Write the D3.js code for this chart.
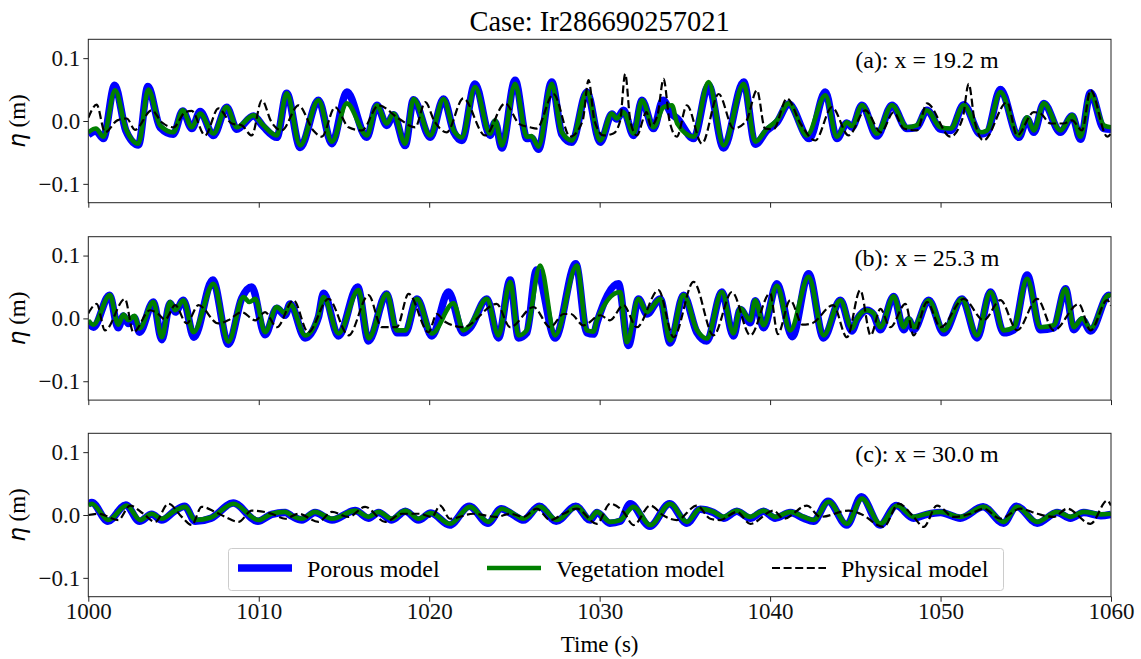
<!DOCTYPE html>
<html><head><meta charset="utf-8">
<script src="https://cdn.jsdelivr.net/npm/d3@7"></script>
<style>body{margin:0;background:#fff}svg{display:block}</style>
</head><body><svg id="c" width="1141" height="659"></svg>
<script>
const title = "Case: Ir286690257021";
const panelLabels = ["(a): x = 19.2 m", "(b): x = 25.3 m", "(c): x = 30.0 m"];
const seriesNames = ["Porous model", "Vegetation model", "Physical model"];
const xTicks = [1000, 1010, 1020, 1030, 1040, 1050, 1060];
const yTicks = [-0.1, 0.0, 0.1];

// Panel (a) x = 19.2 m
const porousA = [[1000.0,-0.022],[1000.45,-0.016],[1000.88,-0.028],[1001.55,0.057],[1002.2,-0.015],[1002.94,-0.038],[1003.5,0.055],[1004.21,-0.010],[1004.99,-0.021],[1005.54,0.016],[1006.07,-0.012],[1006.56,0.015],[1007.34,-0.023],[1008.12,0.022],[1008.71,-0.013],[1009.69,0.008],[1010.27,-0.009],[1011.06,-0.026],[1011.64,0.044],[1012.43,-0.042],[1013.5,0.033],[1014.29,-0.036],[1015.17,0.046],[1016.34,-0.026],[1016.93,0.025],[1017.51,-0.007],[1017.91,0.010],[1018.59,-0.039],[1019.08,0.034],[1020.06,-0.026],[1020.84,0.035],[1021.45,-0.018],[1021.92,-0.031],[1022.69,0.059],[1023.57,-0.023],[1023.87,-0.002],[1024.26,-0.043],[1025.04,0.065],[1025.73,-0.028],[1026.0,-0.027],[1026.41,-0.045],[1027.19,0.062],[1027.78,-0.021],[1028.37,-0.034],[1029.25,0.046],[1030.03,-0.034],[1030.72,0.011],[1031.0,0.003],[1031.4,0.017],[1031.99,-0.023],[1032.48,0.033],[1033.16,-0.012],[1033.72,0.033],[1034.2,0.012],[1034.55,0.004],[1035.51,-0.028],[1036.39,0.057],[1037.27,-0.043],[1038.45,0.062],[1039.13,-0.037],[1039.82,-0.015],[1040.4,-0.002],[1041.09,0.027],[1042.3,-0.028],[1043.24,0.046],[1043.92,-0.028],[1044.51,-0.003],[1044.8,-0.010],[1045.39,0.025],[1046.27,-0.024],[1047.15,0.025],[1048.03,-0.012],[1048.6,-0.010],[1049.2,0.017],[1049.99,-0.013],[1050.6,-0.015],[1051.36,0.026],[1052.34,-0.021],[1052.73,-0.018],[1053.51,0.050],[1054.59,-0.026],[1055.08,0.003],[1055.47,-0.018],[1056.06,0.028],[1057.03,-0.018],[1057.72,0.008],[1058.21,-0.029],[1058.8,0.045],[1059.58,-0.012],[1060.0,-0.013]];
const vegA = [[1000.0,-0.018],[1000.45,-0.012],[1000.88,-0.025],[1001.57,0.049],[1002.2,-0.012],[1002.94,-0.036],[1003.52,0.050],[1004.21,-0.007],[1004.99,-0.018],[1005.54,0.017],[1006.07,-0.010],[1006.56,0.012],[1007.34,-0.020],[1008.12,0.022],[1008.71,-0.010],[1009.69,0.009],[1010.27,-0.007],[1011.06,-0.023],[1011.64,0.044],[1012.43,-0.039],[1013.5,0.033],[1014.29,-0.033],[1015.17,0.028],[1016.34,-0.023],[1016.93,0.025],[1017.51,-0.004],[1017.91,0.012],[1018.59,-0.036],[1019.08,0.035],[1020.06,-0.023],[1020.84,0.035],[1021.45,-0.016],[1021.92,-0.026],[1022.69,0.054],[1023.57,-0.020],[1023.87,0.001],[1024.26,-0.039],[1025.04,0.059],[1025.73,-0.025],[1026.0,-0.024],[1026.41,-0.041],[1027.19,0.059],[1027.78,-0.018],[1028.37,-0.031],[1029.25,0.046],[1030.03,-0.031],[1030.72,0.012],[1031.0,0.004],[1031.4,0.014],[1031.99,-0.020],[1032.48,0.033],[1033.16,-0.010],[1033.75,0.022],[1034.24,0.025],[1034.55,-0.004],[1035.51,-0.025],[1036.39,0.062],[1037.27,-0.039],[1038.45,0.059],[1039.13,-0.033],[1039.82,-0.012],[1040.4,0.001],[1041.09,0.028],[1042.16,-0.023],[1043.24,0.041],[1043.92,-0.025],[1044.51,-0.002],[1044.8,-0.008],[1045.39,0.025],[1046.27,-0.020],[1047.15,0.025],[1048.03,-0.010],[1048.6,-0.007],[1049.2,0.017],[1049.99,-0.010],[1050.6,-0.012],[1051.36,0.025],[1052.34,-0.018],[1052.73,-0.015],[1053.51,0.046],[1054.59,-0.023],[1055.08,0.006],[1055.47,-0.015],[1056.06,0.028],[1057.03,-0.015],[1057.72,0.009],[1058.21,-0.025],[1058.8,0.043],[1059.58,-0.007],[1060.0,-0.010]];
const physA = [[1000.0,0.005],[1000.49,0.026],[1000.98,-0.018],[1001.7,0.001],[1002.25,0.004],[1002.74,-0.014],[1003.72,0.017],[1004.31,-0.002],[1005.0,-0.010],[1005.68,0.014],[1006.07,0.016],[1006.85,-0.023],[1007.63,0.020],[1008.42,-0.004],[1009.0,-0.007],[1009.59,-0.023],[1010.18,0.033],[1010.75,-0.002],[1011.35,-0.015],[1012.33,0.025],[1013.2,-0.015],[1013.7,-0.025],[1014.48,0.022],[1015.27,-0.010],[1016.05,-0.015],[1017.03,0.025],[1018.2,0.004],[1019.18,-0.010],[1019.77,0.030],[1020.3,0.000],[1021.03,-0.018],[1022.0,0.036],[1023.28,-0.023],[1024.45,0.028],[1025.3,-0.005],[1025.92,-0.010],[1026.3,-0.012],[1027.29,0.043],[1028.27,-0.025],[1029.0,0.000],[1029.35,0.065],[1029.7,0.000],[1030.23,-0.023],[1030.8,-0.020],[1031.2,0.000],[1031.5,0.075],[1031.8,0.000],[1032.18,-0.023],[1032.75,0.014],[1033.0,-0.008],[1033.4,0.010],[1033.75,0.067],[1034.1,0.000],[1034.53,-0.025],[1035.12,0.025],[1036.0,-0.036],[1036.98,0.043],[1037.86,-0.012],[1038.6,0.000],[1039.23,0.049],[1039.7,-0.012],[1040.2,-0.013],[1040.99,0.036],[1041.8,-0.005],[1042.65,-0.031],[1043.63,0.022],[1044.61,-0.023],[1045.59,0.017],[1046.5,-0.018],[1047.25,0.014],[1047.84,-0.012],[1048.62,-0.015],[1049.2,0.028],[1050.58,-0.025],[1051.3,0.005],[1051.65,0.059],[1052.0,0.000],[1052.53,-0.031],[1053.9,0.030],[1054.49,-0.023],[1055.47,0.014],[1055.86,0.012],[1056.45,-0.004],[1057.2,-0.004],[1057.72,0.001],[1058.3,-0.015],[1058.8,0.049],[1059.78,-0.025],[1060.0,-0.020]];

// Panel (b) x = 25.3 m
const porousB = [[1000.0,-0.007],[1000.3,-0.014],[1001.25,0.037],[1001.75,-0.015],[1002.06,0.004],[1002.35,-0.008],[1002.7,0.001],[1003.0,-0.022],[1003.82,0.026],[1004.31,-0.034],[1004.8,0.024],[1005.1,0.010],[1005.58,0.029],[1006.2,-0.030],[1007.3,0.061],[1008.22,-0.041],[1009.0,0.032],[1009.59,0.050],[1010.37,-0.026],[1011.06,0.016],[1011.55,0.005],[1011.84,0.023],[1012.72,-0.031],[1013.5,0.002],[1013.8,0.040],[1014.68,-0.028],[1015.8,0.050],[1016.44,-0.036],[1017.5,0.039],[1018.1,-0.023],[1018.6,-0.023],[1019.28,0.031],[1020.16,-0.028],[1021.13,0.042],[1022.0,-0.023],[1022.4,-0.015],[1023.38,0.031],[1024.06,-0.031],[1024.75,0.061],[1025.24,-0.031],[1025.72,-0.023],[1026.3,0.077],[1027.39,-0.031],[1028.6,0.087],[1029.25,-0.023],[1029.64,-0.025],[1029.84,-0.007],[1031.1,0.055],[1031.69,-0.043],[1032.28,0.031],[1032.77,0.007],[1033.55,0.031],[1034.14,-0.039],[1034.92,0.037],[1035.7,-0.022],[1036.29,-0.036],[1037.17,0.042],[1037.85,-0.028],[1038.25,0.014],[1038.84,-0.007],[1039.13,0.028],[1039.62,-0.015],[1040.4,0.055],[1041.3,-0.029],[1042.26,0.071],[1043.14,-0.031],[1044.12,0.029],[1044.8,-0.020],[1045.1,-0.002],[1045.68,0.013],[1046.07,0.006],[1046.47,-0.018],[1047.25,0.035],[1047.84,-0.018],[1048.13,-0.002],[1048.42,-0.018],[1049.3,0.029],[1050.19,-0.023],[1051.26,0.031],[1052.14,-0.031],[1052.93,0.042],[1053.71,-0.023],[1054.3,-0.018],[1055.08,0.069],[1055.86,-0.018],[1056.64,-0.015],[1057.33,0.047],[1057.82,-0.018],[1058.31,-0.002],[1058.8,-0.020],[1059.87,0.037],[1060.0,0.035]];
const vegB = [[1000.0,-0.003],[1000.3,-0.010],[1001.27,0.037],[1001.75,-0.010],[1002.06,0.006],[1002.35,-0.003],[1002.7,0.004],[1003.0,-0.016],[1003.82,0.026],[1004.31,-0.030],[1004.8,0.026],[1005.1,0.013],[1005.58,0.029],[1006.17,-0.022],[1007.34,0.055],[1008.22,-0.037],[1009.1,0.034],[1009.45,0.026],[1009.8,0.031],[1010.37,-0.022],[1011.06,0.018],[1011.55,0.008],[1011.84,0.023],[1012.72,-0.027],[1013.5,0.004],[1013.8,0.034],[1014.68,-0.024],[1015.85,0.045],[1016.44,-0.032],[1017.52,0.039],[1018.1,-0.019],[1018.6,-0.019],[1019.28,0.031],[1020.16,-0.024],[1021.42,0.024],[1022.0,-0.019],[1022.4,-0.011],[1023.38,0.031],[1024.06,-0.027],[1024.75,0.058],[1025.24,-0.027],[1025.72,-0.019],[1026.51,0.084],[1027.39,-0.027],[1028.66,0.084],[1029.25,-0.019],[1029.64,-0.021],[1029.84,-0.003],[1031.2,0.042],[1031.6,-0.038],[1032.28,0.031],[1032.77,0.010],[1033.55,0.031],[1034.14,-0.035],[1034.92,0.037],[1035.7,-0.018],[1036.29,-0.032],[1037.17,0.042],[1037.85,-0.024],[1038.25,0.016],[1038.84,-0.003],[1039.13,0.029],[1039.62,-0.011],[1040.4,0.052],[1041.18,-0.019],[1042.26,0.066],[1043.14,-0.027],[1044.12,0.029],[1044.8,-0.016],[1045.1,0.000],[1045.68,0.013],[1046.07,0.008],[1046.47,-0.014],[1047.25,0.035],[1047.84,-0.014],[1048.13,0.000],[1048.42,-0.014],[1049.3,0.029],[1050.19,-0.019],[1051.26,0.031],[1052.14,-0.027],[1052.93,0.042],[1053.71,-0.019],[1054.3,-0.014],[1055.08,0.063],[1055.86,-0.014],[1056.64,-0.011],[1057.33,0.047],[1057.82,-0.014],[1058.31,0.000],[1058.8,-0.016],[1059.87,0.037],[1060.0,0.035]];
const physB = [[1000.0,0.008],[1000.49,0.023],[1000.98,-0.019],[1002.15,0.031],[1002.64,-0.022],[1003.62,0.013],[1004.1,0.007],[1004.5,-0.002],[1005.1,0.021],[1005.77,-0.008],[1006.46,0.021],[1007.63,-0.008],[1008.2,-0.003],[1009.0,0.010],[1009.8,-0.003],[1010.37,0.010],[1011.06,-0.014],[1012.04,0.029],[1012.9,-0.022],[1014.09,0.031],[1015.27,-0.027],[1016.44,0.037],[1017.22,-0.014],[1018.1,-0.014],[1018.79,0.039],[1019.96,-0.022],[1020.45,0.007],[1020.9,-0.005],[1022.0,-0.014],[1023.96,0.023],[1024.75,-0.014],[1026.12,0.018],[1027.1,-0.014],[1027.88,0.007],[1028.3,0.007],[1029.05,-0.011],[1030.05,0.005],[1030.6,-0.003],[1031.4,0.021],[1032.18,-0.014],[1033.45,0.045],[1034.34,-0.030],[1035.51,0.058],[1036.68,-0.027],[1037.76,0.042],[1038.84,-0.027],[1040.0,0.040],[1040.45,-0.025],[1041.18,0.029],[1041.9,-0.010],[1042.45,-0.008],[1043.7,0.021],[1044.51,-0.030],[1045.29,0.045],[1045.9,-0.027],[1046.47,0.015],[1047.05,-0.014],[1047.94,0.023],[1048.42,-0.027],[1049.21,0.026],[1050.0,-0.014],[1051.36,0.031],[1052.53,-0.003],[1053.51,0.029],[1054.5,-0.019],[1055.67,0.031],[1056.64,-0.019],[1058.11,0.023],[1058.8,-0.019],[1059.78,0.029],[1060.0,0.020]];

// Panel (c) x = 30.0 m
const porousC = [[1000.0,0.017],[1000.2,0.020],[1001.15,-0.010],[1002.2,0.016],[1003.0,-0.010],[1003.72,0.001],[1004.3,-0.008],[1005.05,0.006],[1005.65,0.014],[1006.27,-0.010],[1007.2,-0.005],[1008.5,0.019],[1009.95,-0.010],[1010.76,0.001],[1011.55,0.004],[1011.94,-0.002],[1012.53,-0.008],[1013.3,0.004],[1014.3,-0.008],[1015.66,0.007],[1016.44,-0.005],[1017.03,0.004],[1017.8,-0.008],[1018.6,0.006],[1019.37,-0.008],[1020.1,0.003],[1021.2,-0.016],[1022.35,0.014],[1023.45,-0.013],[1024.22,0.010],[1024.94,0.000],[1025.53,-0.008],[1026.45,0.014],[1027.45,-0.010],[1028.6,0.014],[1029.44,-0.008],[1029.84,0.004],[1030.6,-0.013],[1031.2,-0.010],[1031.79,0.018],[1032.95,-0.018],[1034.1,0.018],[1035.12,-0.013],[1035.9,0.009],[1036.68,0.004],[1037.27,-0.005],[1038.05,0.006],[1038.84,-0.005],[1039.62,0.006],[1040.3,-0.005],[1041.2,0.004],[1041.97,-0.005],[1042.55,-0.010],[1043.4,0.022],[1044.5,-0.016],[1045.35,0.029],[1046.45,-0.016],[1047.4,0.015],[1048.42,-0.005],[1049.2,0.001],[1050.0,0.004],[1051.16,-0.005],[1052.5,0.013],[1053.7,-0.013],[1054.45,0.014],[1055.67,-0.013],[1056.84,0.004],[1057.62,-0.005],[1058.4,0.004],[1059.4,-0.001],[1060.0,0.001]];
const vegC = [[1000.0,0.015],[1000.2,0.018],[1001.18,-0.008],[1002.25,0.015],[1003.04,-0.008],[1003.72,0.002],[1004.3,-0.006],[1005.09,0.007],[1005.68,0.013],[1006.27,-0.008],[1007.2,-0.004],[1008.52,0.018],[1009.98,-0.008],[1010.76,0.002],[1011.55,0.005],[1011.94,-0.001],[1012.53,-0.006],[1013.3,0.005],[1014.3,-0.006],[1015.66,0.007],[1016.44,-0.003],[1017.03,0.005],[1017.8,-0.006],[1018.6,0.007],[1019.37,-0.006],[1020.1,0.003],[1021.22,-0.014],[1022.4,0.013],[1023.47,-0.011],[1024.26,0.010],[1024.94,0.002],[1025.53,-0.006],[1026.51,0.013],[1027.49,-0.008],[1028.66,0.013],[1029.44,-0.006],[1029.84,0.005],[1030.62,-0.011],[1031.2,-0.008],[1031.99,0.013],[1032.97,-0.016],[1034.14,0.018],[1035.12,-0.011],[1035.9,0.010],[1036.68,0.005],[1037.27,-0.003],[1038.05,0.007],[1038.84,-0.003],[1039.62,0.007],[1040.3,-0.003],[1041.2,0.005],[1041.97,-0.003],[1042.55,-0.008],[1043.43,0.021],[1044.51,-0.014],[1045.39,0.026],[1046.47,-0.014],[1047.45,0.015],[1048.42,-0.003],[1049.2,0.002],[1050.0,0.005],[1051.16,-0.003],[1052.54,0.013],[1053.71,-0.011],[1054.49,0.013],[1055.67,-0.011],[1056.84,0.005],[1057.62,-0.003],[1058.4,0.005],[1059.4,0.001],[1060.0,0.002]];
const physC = [[1000.0,0.000],[1000.59,0.002],[1001.76,-0.008],[1002.45,0.015],[1003.23,0.002],[1003.92,-0.011],[1004.7,0.018],[1005.48,-0.003],[1006.07,-0.016],[1006.65,0.013],[1007.44,0.005],[1008.03,-0.003],[1008.81,-0.011],[1009.59,0.007],[1010.76,0.002],[1011.55,-0.006],[1012.33,0.002],[1013.5,-0.011],[1014.29,0.005],[1015.27,-0.003],[1016.24,0.013],[1017.42,-0.011],[1018.4,0.002],[1019.38,0.002],[1020.16,-0.003],[1020.64,0.015],[1021.22,-0.006],[1022.59,0.002],[1023.96,-0.003],[1024.75,0.002],[1025.53,-0.003],[1026.31,0.010],[1027.1,-0.008],[1027.88,0.002],[1028.66,0.010],[1029.83,-0.014],[1030.62,0.018],[1031.4,0.005],[1031.99,-0.016],[1032.97,0.015],[1033.75,-0.001],[1034.53,-0.008],[1035.71,0.015],[1036.49,-0.006],[1037.07,-0.008],[1038.05,0.005],[1038.84,-0.014],[1040.21,0.007],[1040.79,-0.006],[1042.16,0.015],[1042.95,-0.003],[1044.61,0.007],[1045.29,0.002],[1046.66,-0.019],[1047.54,0.018],[1048.42,-0.003],[1049.01,-0.019],[1049.79,0.015],[1050.77,-0.003],[1051.75,0.002],[1052.53,0.010],[1053.51,-0.006],[1054.69,0.010],[1055.67,0.002],[1056.64,-0.003],[1057.43,0.010],[1058.8,-0.014],[1059.78,0.023],[1060.0,0.015]];

const porous = [porousA, porousB, porousC];
const veg = [vegA, vegB, vegC];
const phys = [physA, physB, physC];

const svg = d3.select("#c");
const serif = "'Liberation Serif','Times New Roman',serif";
const L = 88.3, R = 1111, PH = 163.4;
const tops = [39.3, 236.7, 433.3];
const x = d3.scaleLinear().domain([1000, 1060]).range([L, R]);
const colors = {porous: "#0000ff", veg: "#008000", phys: "#000000"};
const wP = 7.5, wV = 4.6, wD = 2.2, dash = "8,3.6";

svg.append("text").attr("x", (L + R) / 2).attr("y", 31).attr("text-anchor", "middle")
  .style("font-family", serif).style("font-size", "28.5px").text(title);

tops.forEach((top, i) => {
  const y = d3.scaleLinear().domain([-0.13, 0.13]).range([top + PH, top]);
  const g = svg.append("g");
  const cid = "clip" + i;
  svg.append("clipPath").attr("id", cid).append("rect")
    .attr("x", L).attr("y", top).attr("width", R - L).attr("height", PH);
  const line = d3.line().x(d => x(d[0])).y(d => y(d[1])).curve(d3.curveMonotoneX);
  const pg = g.append("g").attr("clip-path", `url(#${cid})`);
  pg.append("path").datum(porous[i]).attr("d", line).attr("fill", "none")
    .attr("stroke", colors.porous).attr("stroke-width", wP).attr("stroke-linejoin", "round");
  pg.append("path").datum(veg[i]).attr("d", line).attr("fill", "none")
    .attr("stroke", colors.veg).attr("stroke-width", wV).attr("stroke-linejoin", "round");
  pg.append("path").datum(phys[i]).attr("d", line).attr("fill", "none")
    .attr("stroke", colors.phys).attr("stroke-width", wD).attr("stroke-dasharray", dash);

  const ya = d3.axisLeft(y).tickValues(yTicks).tickSize(5).tickPadding(3)
    .tickFormat(d => Math.abs(d) < 1e-9 ? "0.0" : d3.format(".1f")(d));
  const gy = g.append("g").attr("transform", `translate(${L},0)`).call(ya);
  const xa = d3.axisBottom(x).tickValues(xTicks).tickSize(5).tickPadding(1)
    .tickFormat(i === 2 ? d3.format("d") : () => "");
  const gx = g.append("g").attr("transform", `translate(0,${top + PH})`).call(xa);
  [gx, gy].forEach(a => {
    a.select(".domain").remove();
    a.selectAll("line").attr("stroke", "#222").attr("stroke-width", 1);
    a.selectAll("text").style("font-family", serif).style("font-size", "23px").attr("fill", "#111");
  });
  g.append("rect").attr("x", L).attr("y", top).attr("width", R - L).attr("height", PH)
    .attr("fill", "none").attr("stroke", "#222").attr("stroke-width", 1);

  g.append("text").attr("x", 927).attr("y", top + 29).attr("text-anchor", "middle")
    .style("font-family", serif).style("font-size", "24px").text(panelLabels[i]);

  const yl = g.append("text").attr("transform", `translate(25,${top + PH / 2}) rotate(-90)`)
    .attr("text-anchor", "middle").style("font-family", serif).style("font-size", "23px");
  yl.append("tspan").style("font-family", "'DejaVu Sans'").style("font-style", "italic").text("η");
  yl.append("tspan").text(" (m)");
});

svg.append("text").attr("x", (L + R) / 2).attr("y", 652).attr("text-anchor", "middle")
  .style("font-family", serif).style("font-size", "23px").text("Time (s)");

const lg = svg.append("g");
lg.append("rect").attr("x", 228.5).attr("y", 548.5).attr("width", 775).attr("height", 42)
  .attr("rx", 3).attr("fill", "#fff").attr("fill-opacity", 0.8).attr("stroke", "#cccccc").attr("stroke-width", 1);
const legItems = [
  {name: seriesNames[0], x: 238, color: colors.porous, w: wP, dash: null},
  {name: seriesNames[1], x: 487, color: colors.veg, w: wV, dash: null},
  {name: seriesNames[2], x: 772, color: colors.phys, w: wD, dash: dash}
];
legItems.forEach(it => {
  lg.append("line").attr("x1", it.x).attr("x2", it.x + 54).attr("y1", 568).attr("y2", 568)
    .attr("stroke", it.color).attr("stroke-width", it.w).attr("stroke-dasharray", it.dash);
  lg.append("text").attr("x", it.x + 69).attr("y", 576.5).style("font-family", serif)
    .style("font-size", "24px").text(it.name);
});
</script></body></html>
